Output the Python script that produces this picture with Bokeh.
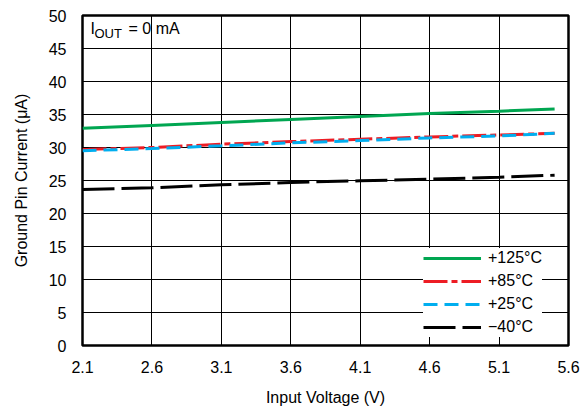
from bokeh.plotting import figure
from bokeh.models import Range1d, Label, Legend, LegendItem, FixedTicker
from bokeh.embed import file_html
from bokeh.resources import INLINE

vin = [2.1, 2.6, 3.1, 3.6, 4.1, 4.6, 5.1, 5.5]
i_125 = [32.9, 33.35, 33.8, 34.25, 34.7, 35.15, 35.5, 35.85]
i_85 = [29.7, 30.0, 30.5, 30.9, 31.25, 31.6, 31.9, 32.15]
i_25 = [29.5, 29.85, 30.25, 30.7, 31.05, 31.45, 31.75, 32.15]
i_m40 = [23.65, 23.9, 24.35, 24.7, 24.95, 25.2, 25.5, 25.8]
x_ticks = [2.1, 2.6, 3.1, 3.6, 4.1, 4.6, 5.1, 5.6]
y_ticks = list(range(0, 51, 5))

FONT = "Liberation Sans"

p = figure(width=584, height=414, output_backend="svg", toolbar_location=None,
           x_range=Range1d(2.1, 5.6), y_range=Range1d(0, 50),
           min_border_left=82, min_border_right=16, min_border_top=15, min_border_bottom=69)

p.outline_line_color = "black"
p.outline_line_width = 2.5
for ax in (p.xaxis[0], p.yaxis[0]):
    ax.axis_line_color = None
    ax.major_tick_line_color = "black"
    ax.major_tick_in = 6
    ax.major_tick_out = 0
    ax.minor_tick_line_color = None
    ax.major_label_text_font = FONT
    ax.major_label_text_font_size = "16px"
    ax.major_label_text_color = "black"
    ax.axis_label_text_font = FONT
    ax.axis_label_text_font_size = "16px"
    ax.axis_label_text_font_style = "normal"
    ax.axis_label_text_color = "black"

p.xaxis.ticker = FixedTicker(ticks=x_ticks)
p.yaxis.ticker = FixedTicker(ticks=y_ticks)
p.xaxis.major_label_overrides = {t: f"{t:.1f}" for t in x_ticks}
p.xaxis.axis_label = "Input Voltage (V)"
p.yaxis.axis_label = "Ground Pin Current (\u03bcA)"
p.xaxis.major_label_standoff = 15
p.yaxis.major_label_standoff = 16
p.xaxis.axis_label_standoff = 13
p.yaxis.axis_label_standoff = 16

p.xgrid.grid_line_color = "black"
p.ygrid.grid_line_color = "black"
p.xgrid.grid_line_width = 1
p.ygrid.grid_line_width = 1

r1 = p.line(vin, i_125, line_color="#00A651", line_width=3)
r2 = p.line(vin, i_85, line_color="#ED1C24", line_width=3, line_dash="24 4 6 4")
r3 = p.line(vin, i_25, line_color="#00AEEF", line_width=3, line_dash="14 7")
r4 = p.line(vin, i_m40, line_color="black", line_width=3, line_dash="32 7")

legend = Legend(items=[LegendItem(label="+125\u00b0C", renderers=[r1]),
                       LegendItem(label="+85\u00b0C", renderers=[r2]),
                       LegendItem(label="+25\u00b0C", renderers=[r3]),
                       LegendItem(label="\u221240\u00b0C", renderers=[r4])],
                location=(341, 8))
legend.border_line_color = None
legend.background_fill_color = "white"
legend.background_fill_alpha = 1
legend.label_text_font = FONT
legend.label_text_font_size = "16px"
legend.label_text_color = "black"
legend.glyph_width = 58
legend.glyph_height = 20
legend.label_height = 20
legend.label_standoff = 7
legend.spacing = 3
legend.padding = 8
legend.margin = 0
p.add_layout(legend)

p.add_layout(Label(x=2.1, y=46.67, x_offset=8, text="I", text_font=FONT,
                   text_font_size="16px", text_color="black"))
p.add_layout(Label(x=2.1, y=46.67, x_offset=12, y_offset=-4, text="OUT", text_font=FONT,
                   text_font_size="13px", text_color="black"))
p.add_layout(Label(x=2.1, y=46.67, x_offset=46, text="= 0 mA", text_font=FONT,
                   text_font_size="16px", text_color="black"))

open("out.html", "w").write(file_html(p, INLINE))
